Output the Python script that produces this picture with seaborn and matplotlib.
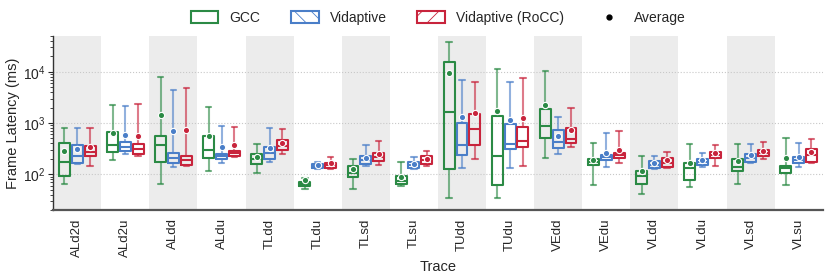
import matplotlib
matplotlib.use("Agg")
import matplotlib.pyplot as plt
from matplotlib.patches import Patch, PathPatch
from matplotlib.lines import Line2D
from matplotlib.colors import to_rgba
import pandas as pd
import seaborn as sns

# Traces on the x axis
traces = ["ALd2d", "ALd2u", "ALdd", "ALdu", "TLdd", "TLdu", "TLsd", "TLsu",
          "TUdd", "TUdu", "VEdd", "VEdu", "VLdd", "VLdu", "VLsd", "VLsu"]
methods = ["GCC", "Vidaptive", "Vidaptive (RoCC)"]

# box stats per trace: (lower whisker, q1, median, q3, upper whisker), ms
gcc_box = [(66, 94, 173, 416, 809), (187, 269, 368, 658, 2218), (66, 171, 368, 565, 8020),
           (114, 205, 297, 565, 2056), (104, 160, 195, 248, 394), (52, 60, 66, 71, 84),
           (51, 88, 107, 145, 203), (59, 65, 74, 92, 171), (35, 125, 1618, 15740, 38200),
           (34, 61, 230, 1371, 11350), (210, 516, 885, 1854, 10240), (62, 153, 173, 203, 402),
           (41, 65, 92, 115, 227), (57, 77, 130, 163, 384), (65, 115, 140, 195, 384),
           (62, 104, 132, 145, 516)]
vid_box = [(158, 168, 232, 367, 787), (245, 284, 348, 426, 2149), (138, 165, 207, 256, 4413),
           (166, 201, 224, 245, 885), (171, 198, 259, 340, 787), (126, 134, 145, 158, 175),
           (145, 162, 189, 224, 380), (129, 135, 155, 175, 220), (134, 234, 377, 1014, 7020),
           (130, 306, 384, 944, 6410), (248, 321, 426, 720, 1328), (140, 194, 217, 243, 630),
           (129, 135, 155, 181, 224), (136, 149, 173, 201, 263), (163, 177, 207, 245, 384),
           (140, 169, 194, 220, 402)]
rocc_box = [(146, 227, 268, 356, 798), (225, 250, 308, 384, 2350), (143, 151, 187, 232, 4765),
            (214, 227, 257, 280, 848), (250, 301, 364, 466, 753), (129, 135, 151, 169, 214),
            (149, 184, 217, 259, 445), (145, 160, 194, 230, 288), (198, 367, 753, 1479, 6240),
            (143, 335, 445, 848, 7460), (344, 401, 481, 798, 1963), (168, 207, 237, 263, 698),
            (135, 141, 165, 205, 275), (145, 212, 243, 275, 372), (195, 232, 259, 297, 431),
            (169, 177, 237, 306, 481)]

# averages (dots)
gcc_mean = [288, 650, 1432, 560, 215, 79, 126, 89, 9360, 1715, 2218, 192, 118, 165, 181, 210]
vid_mean = [310, 583, 707, 343, 325, 155, 209, 160, 1309, 1159, 557, 263, 168, 189, 234, 214]
rocc_mean = [340, 565, 740, 377, 416, 163, 245, 201, 1546, 1270, 730, 297, 189, 263, 284, 275]

colors = {"GCC": "#2b8a45", "Vidaptive": "#4a7ec8", "Vidaptive (RoCC)": "#c8243c"}
hatches = {"GCC": "", "Vidaptive": "\\\\", "Vidaptive (RoCC)": "//"}

rows = []
for m, boxes in zip(methods, [gcc_box, vid_box, rocc_box]):
    for t, vals in zip(traces, boxes):
        for v in vals:
            rows.append({"Trace": t, "Method": m, "Latency": v})
box_df = pd.DataFrame(rows)

mean_rows = []
for m, means in zip(methods, [gcc_mean, vid_mean, rocc_mean]):
    for t, v in zip(traces, means):
        mean_rows.append({"Trace": t, "Method": m, "Latency": v})
mean_df = pd.DataFrame(mean_rows)

sns.set_theme(style="white")
plt.rcParams["font.family"] = ["Liberation Sans", "DejaVu Sans"]
plt.rcParams["hatch.linewidth"] = 0.6

fig, ax = plt.subplots(figsize=(8.31, 2.79), dpi=100)
fig.subplots_adjust(left=0.064, right=0.99, top=0.871, bottom=0.247)

for i in range(0, len(traces), 2):
    ax.axvspan(i - 0.5, i + 0.5, color="#ececec", lw=0, zorder=0)

ax.set_yscale("log")
sns.boxplot(data=box_df, x="Trace", y="Latency", hue="Method", hue_order=methods,
            order=traces, palette=colors, fill=False, width=0.8, gap=0.15,
            whis=(0, 100), linewidth=1.5, legend=False,
            whiskerprops=dict(alpha=0.6), capprops=dict(alpha=0.7), ax=ax)

# white faces + hatches
for p in ax.patches:
    if isinstance(p, PathPatch):
        ec = p.get_edgecolor()
        for m in methods:
            if all(abs(a - b) < 0.02 for a, b in zip(ec[:3], to_rgba(colors[m])[:3])):
                p.set_facecolor("white")
                p.set_hatch(hatches[m])
                p.set_zorder(2)

sns.stripplot(data=mean_df, x="Trace", y="Latency", hue="Method", hue_order=methods,
              order=traces, palette=colors, dodge=True, jitter=False, size=4.5,
              edgecolor="white", linewidth=0.8, legend=False, zorder=5, ax=ax)

ax.set_ylim(20, 50000)
ax.set_xlim(-0.5, len(traces) - 0.5)
ax.set_axisbelow(True)
ax.yaxis.grid(True, which="major", ls=":", color="#c8c8c8", lw=0.8)
ax.xaxis.grid(False)

for s in ["top", "right"]:
    ax.spines[s].set_visible(False)
ax.spines["left"].set_color("#333333")
ax.spines["left"].set_linewidth(1.0)
ax.spines["bottom"].set_color("#555555")
ax.spines["bottom"].set_linewidth(1.6)

ax.tick_params(axis="y", which="major", left=True, length=3.5, width=0.8, labelsize=10, pad=2)
ax.tick_params(axis="y", which="minor", left=True, length=2, width=0.6)
ax.tick_params(axis="x", length=0, labelsize=9.5, rotation=90, pad=6)

ax.set_xlabel("Trace", fontsize=10.5, labelpad=2)
ax.set_ylabel("Frame Latency (ms)", fontsize=10.5, labelpad=2)

handles = [Patch(facecolor="white", edgecolor=colors[m], hatch=hatches[m], lw=1.5, label=m)
           for m in methods]
handles.append(Line2D([], [], marker="o", color="black", ls="", markersize=3.5, label="Average"))
ax.legend(handles=handles, loc="lower center", bbox_to_anchor=(0.5, 1.0), ncol=4,
          frameon=False, fontsize=10, handlelength=2.0, handleheight=0.9,
          columnspacing=2.2, borderaxespad=0.4)

fig.savefig("out.png", dpi=100)
